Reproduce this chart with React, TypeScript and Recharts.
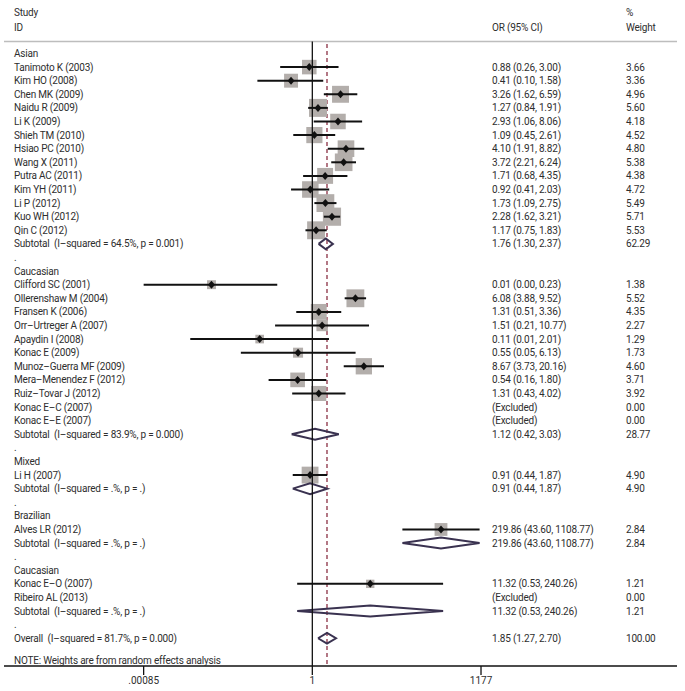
import React from 'react';
import { ComposedChart, XAxis, YAxis, Scatter, ReferenceLine } from 'recharts';

// one entry per row of the plot, top to bottom
const rowLabels = [
  'Asian',
  'Tanimoto K (2003)', 'Kim HO (2008)', 'Chen MK (2009)', 'Naidu R (2009)', 'Li K (2009)',
  'Shieh TM (2010)', 'Hsiao PC (2010)', 'Wang X (2011)', 'Putra AC (2011)', 'Kim YH (2011)',
  'Li P (2012)', 'Kuo WH (2012)', 'Qin C (2012)',
  'Subtotal  (I\u2013squared = 64.5%, p = 0.001)',
  '.',
  'Caucasian',
  'Clifford SC (2001)', 'Ollerenshaw M (2004)', 'Fransen K (2006)', 'Orr\u2013Urtreger A (2007)',
  'Apaydin I (2008)', 'Konac E (2009)', 'Munoz\u2013Guerra MF (2009)', 'Mera\u2013Menendez F (2012)',
  'Ruiz\u2013Tovar J (2012)', 'Konac E\u2013C (2007)', 'Konac E\u2013E (2007)',
  'Subtotal  (I\u2013squared = 83.9%, p = 0.000)',
  '.',
  'Mixed',
  'Li H (2007)',
  'Subtotal  (I\u2013squared = .%, p = .)',
  '.',
  'Brazilian',
  'Alves LR (2012)',
  'Subtotal  (I\u2013squared = .%, p = .)',
  '.',
  'Caucasian',
  'Konac E\u2013O (2007)', 'Ribeiro AL (2013)',
  'Subtotal  (I\u2013squared = .%, p = .)',
  '.',
  'Overall  (I\u2013squared = 81.7%, p = 0.000)',
];

// g = group heading, s = study, x = excluded, t = subtotal, o = overall, d = spacer
const rowKinds = [
  'g', 's', 's', 's', 's', 's', 's', 's', 's', 's', 's', 's', 's', 's', 't', 'd',
  'g', 's', 's', 's', 's', 's', 's', 's', 's', 's', 'x', 'x', 't', 'd',
  'g', 's', 't', 'd',
  'g', 's', 't', 'd',
  'g', 's', 'x', 't', 'd',
  'o',
];

const orValues = [
  null, 0.88, 0.41, 3.26, 1.27, 2.93, 1.09, 4.10, 3.72, 1.71, 0.92, 1.73, 2.28, 1.17, 1.76, null,
  null, 0.0146, 6.08, 1.31, 1.51, 0.11, 0.55, 8.67, 0.54, 1.31, null, null, 1.12, null,
  null, 0.91, 0.91, null,
  null, 219.86, 219.86, null,
  null, 11.32, null, 11.32, null,
  1.85,
];

const ciLower = [
  null, 0.26, 0.10, 1.62, 0.84, 1.06, 0.45, 1.91, 2.21, 0.68, 0.41, 1.09, 1.62, 0.75, 1.30, null,
  null, 0.00085, 3.88, 0.51, 0.21, 0.006, 0.05, 3.73, 0.16, 0.43, null, null, 0.42, null,
  null, 0.44, 0.44, null,
  null, 43.60, 43.60, null,
  null, 0.53, null, 0.53, null,
  1.27,
];

const ciUpper = [
  null, 3.00, 1.58, 6.59, 1.91, 8.06, 2.61, 8.82, 6.24, 4.35, 2.03, 2.75, 3.21, 1.83, 2.37, null,
  null, 0.23, 9.52, 3.36, 10.77, 2.01, 6.13, 20.16, 1.80, 4.02, null, null, 3.03, null,
  null, 1.87, 1.87, null,
  null, 1108.77, 1108.77, null,
  null, 240.26, null, 240.26, null,
  2.70,
];

const weights = [
  null, 3.66, 3.36, 4.96, 5.60, 4.18, 4.52, 4.80, 5.38, 4.38, 4.72, 5.49, 5.71, 5.53, 62.29, null,
  null, 1.38, 5.52, 4.35, 2.27, 1.29, 1.73, 4.60, 3.71, 3.92, 0.00, 0.00, 28.77, null,
  null, 4.90, 4.90, null,
  null, 2.84, 2.84, null,
  null, 1.21, 0.00, 1.21, null,
  100.00,
];

const xTicks = [0.00085, 1, 1177];
const xTickLabels = ['.00085', '1', '1177'];
const overallOr = 1.85;
const noteText = 'NOTE: Weights are from random effects analysis';

const W = 685;
const H = 691;
const ROW_TOP = -3.934;
const ROW_BOTTOM = 45.04;
const X_MIN = 2.44e-6;
const X_MAX = 4.35e6;
const TEXT = '#2e2e2e';
const FONT = 10;
const SPACING = -0.2;

const rows = rowLabels.map((label, i) => ({
  x: 1,
  y: i,
  label,
  kind: rowKinds[i],
  or: orValues[i],
  lo: ciLower[i],
  hi: ciUpper[i],
  w: weights[i],
}));

const f2 = (v: number) => v.toFixed(2);

const textRows = [
  { x: 1, y: -3.0, c1: 'Study', c2: '', c3: '%' },
  { x: 1, y: -1.9, c1: 'ID', c2: 'OR (95% CI)', c3: 'Weight' },
  ...rows.map((r) => ({
    x: 1,
    y: r.y,
    c1: r.label,
    c2: r.kind === 'x' ? '(Excluded)' : r.or != null ? `${f2(r.or)} (${f2(r.lo as number)}, ${f2(r.hi as number)})` : '',
    c3: r.w != null ? f2(r.w) : '',
  })),
  { x: 1, y: 44.6, c1: noteText, c2: '', c3: '' },
];

const studies = rows.filter((r) => r.kind === 's').map((r) => ({ ...r, x: r.or as number }));
const pooled = rows.filter((r) => r.kind === 't' || r.kind === 'o');

const TextShape = (props: any) => {
  const { cy, payload } = props;
  const st = { whiteSpace: 'pre' as const };
  return (
    <g fill={TEXT} fontSize={FONT} letterSpacing={SPACING}>
      <text x={14} y={cy} dominantBaseline="central" style={st}>{payload.c1}</text>
      <text x={492} y={cy} dominantBaseline="central" style={st}>{payload.c2}</text>
      <text x={626} y={cy} dominantBaseline="central" style={st}>{payload.c3}</text>
    </g>
  );
};

const SquareShape = (props: any) => {
  const { cx, cy, payload } = props;
  const s = 7.6 * Math.sqrt(payload.w);
  return <rect x={cx - s / 2} y={cy - s / 2} width={s} height={s} fill="#b3aeab" />;
};

const PointShape = (props: any) => {
  const { cx, cy } = props;
  return <path d={`M${cx - 3.5},${cy} L${cx},${cy - 4} L${cx + 3.5},${cy} L${cx},${cy + 4} Z`} fill="#111" />;
};

const NoShape = () => <g />;

export default function App() {
  return (
    <div style={{ position: 'absolute', left: 0, top: 0, width: W, height: H, background: '#fff', fontFamily: 'Roboto, sans-serif' }}>
      <ComposedChart width={W} height={H} margin={{ top: 0, right: 8, bottom: 0, left: 4 }}>
        <XAxis
          dataKey="x"
          type="number"
          scale="log"
          domain={[X_MIN, X_MAX]}
          allowDataOverflow
          ticks={xTicks}
          tickFormatter={(v: number) => xTickLabels[xTicks.indexOf(v)] ?? String(v)}
          height={25}
          tickSize={9}
          tick={{ fill: TEXT, fontSize: FONT }}
          axisLine={{ stroke: '#111', strokeWidth: 1.3 }}
          tickLine={{ stroke: '#111', strokeWidth: 1.3 }}
          interval={0}
        />
        <YAxis dataKey="y" type="number" domain={[ROW_TOP, ROW_BOTTOM]} reversed hide allowDataOverflow />

        <ReferenceLine y={-0.88} stroke="#bdbdbd" strokeWidth={1.5} />
        <ReferenceLine
          segment={[{ x: overallOr, y: -0.7 }, { x: overallOr, y: ROW_BOTTOM }]}
          stroke="#9a4b5c"
          strokeWidth={1.5}
          strokeDasharray="4 3"
        />

        <Scatter data={studies} shape={<SquareShape />} isAnimationActive={false} />

        {/* confidence intervals, drawn over the weight boxes */}
        {studies.map((r) => (
          <Scatter
            key={`ci-${r.y}`}
            data={[{ x: r.lo as number, y: r.y }, { x: r.hi as number, y: r.y }]}
            line={{ stroke: '#111', strokeWidth: 2 }}
            lineType="joint"
            shape={<NoShape />}
            isAnimationActive={false}
          />
        ))}

        <Scatter data={studies} shape={<PointShape />} isAnimationActive={false} />

        {pooled.map((r) => (
          <Scatter
            key={`dia-${r.y}`}
            data={[
              { x: r.lo as number, y: r.y },
              { x: r.or as number, y: r.y - 0.4 },
              { x: r.hi as number, y: r.y },
              { x: r.or as number, y: r.y + 0.4 },
              { x: r.lo as number, y: r.y },
            ]}
            line={{ stroke: '#3a3250', strokeWidth: 2 }}
            lineType="joint"
            shape={<NoShape />}
            isAnimationActive={false}
          />
        ))}

        <Scatter
          data={[{ x: 1, y: -0.88 }, { x: 1, y: ROW_BOTTOM }]}
          line={{ stroke: '#111', strokeWidth: 1.3 }}
          lineType="joint"
          shape={<NoShape />}
          isAnimationActive={false}
        />

        <Scatter data={textRows} shape={<TextShape />} isAnimationActive={false} />
      </ComposedChart>
    </div>
  );
}
